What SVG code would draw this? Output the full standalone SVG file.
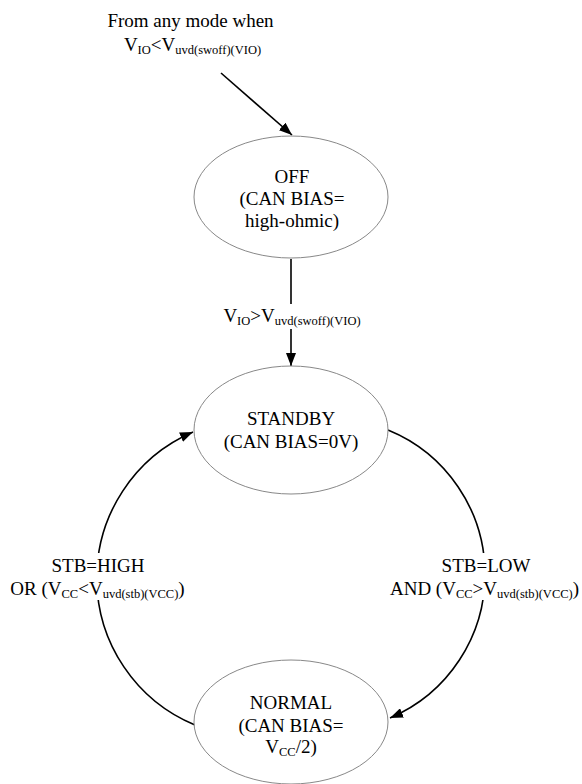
<svg xmlns="http://www.w3.org/2000/svg" width="582" height="784" viewBox="0 0 582 784">
<style>
text{font-family:"Liberation Serif","Times New Roman",serif;font-size:19px;fill:#000}
.c{text-anchor:middle}
.s{font-size:12.5px}
.node ellipse{fill:#fff;stroke:#888;stroke-width:1}
.conn{fill:none;stroke:#000;stroke-width:1.6}
.bg{fill:#fff;stroke:none}
</style>
<defs>
<marker id="ah" viewBox="0 0 13 10" refX="13" refY="5" markerWidth="13" markerHeight="10" markerUnits="userSpaceOnUse" orient="auto">
<path d="M0,0 L13,5 L0,10 Z" fill="#000"/>
</marker>
</defs>
<g id="connectors">
<line class="conn" x1="221" y1="73" x2="292" y2="135" marker-end="url(#ah)"/>
<line class="conn" x1="291" y1="259" x2="291" y2="366" marker-end="url(#ah)"/>
<path class="conn" d="M195,725 A159,159 0 0 1 193,432" marker-end="url(#ah)"/>
<path class="conn" d="M388,430 A156,156 0 0 1 390,718" marker-end="url(#ah)"/>
<rect class="bg" x="222" y="304" width="140" height="25"/>
<rect class="bg" x="12" y="553" width="172" height="47"/>
<rect class="bg" x="390" y="553" width="189" height="47"/>
</g>
<g id="label-start">
<text class="c" x="190.5" y="27">From any mode when</text>
<text class="c" x="192.5" y="51">V<tspan class="s" dy="3">IO</tspan><tspan dy="-3">&lt;V</tspan><tspan class="s" dy="3">uvd(swoff)(VIO)</tspan></text>
</g>
<g id="label-off-standby">
<text class="c" x="292" y="322">V<tspan class="s" dy="3">IO</tspan><tspan dy="-3">&gt;V</tspan><tspan class="s" dy="3">uvd(swoff)(VIO)</tspan></text>
</g>
<g id="label-left">
<text class="c" x="98" y="572">STB=HIGH</text>
<text class="c" x="97.5" y="595">OR (V<tspan class="s" dy="3">CC</tspan><tspan dy="-3">&lt;V</tspan><tspan class="s" dy="3">uvd(stb)(VCC)</tspan><tspan dy="-3">)</tspan></text>
</g>
<g id="label-right">
<text class="c" x="486" y="572">STB=LOW</text>
<text class="c" x="484.5" y="595">AND (V<tspan class="s" dy="3">CC</tspan><tspan dy="-3">&gt;V</tspan><tspan class="s" dy="3">uvd(stb)(VCC)</tspan><tspan dy="-3">)</tspan></text>
</g>
<g id="off" class="node">
<ellipse cx="291" cy="197" rx="97" ry="61"/>
<text class="c" x="292" y="183">OFF</text>
<text class="c" x="292" y="205">(CAN BIAS=</text>
<text class="c" x="292" y="227">high-ohmic)</text>
</g>
<g id="standby" class="node">
<ellipse cx="291" cy="430" rx="97" ry="64"/>
<text class="c" x="291" y="425">STANDBY</text>
<text class="c" x="291" y="448">(CAN BIAS=0V)</text>
</g>
<g id="normal" class="node">
<ellipse cx="291" cy="722" rx="97" ry="62"/>
<text class="c" x="291" y="709">NORMAL</text>
<text class="c" x="291" y="732">(CAN BIAS=</text>
<text class="c" x="291" y="753">V<tspan class="s" dy="3">CC</tspan><tspan dy="-3">/2)</tspan></text>
</g>
</svg>
